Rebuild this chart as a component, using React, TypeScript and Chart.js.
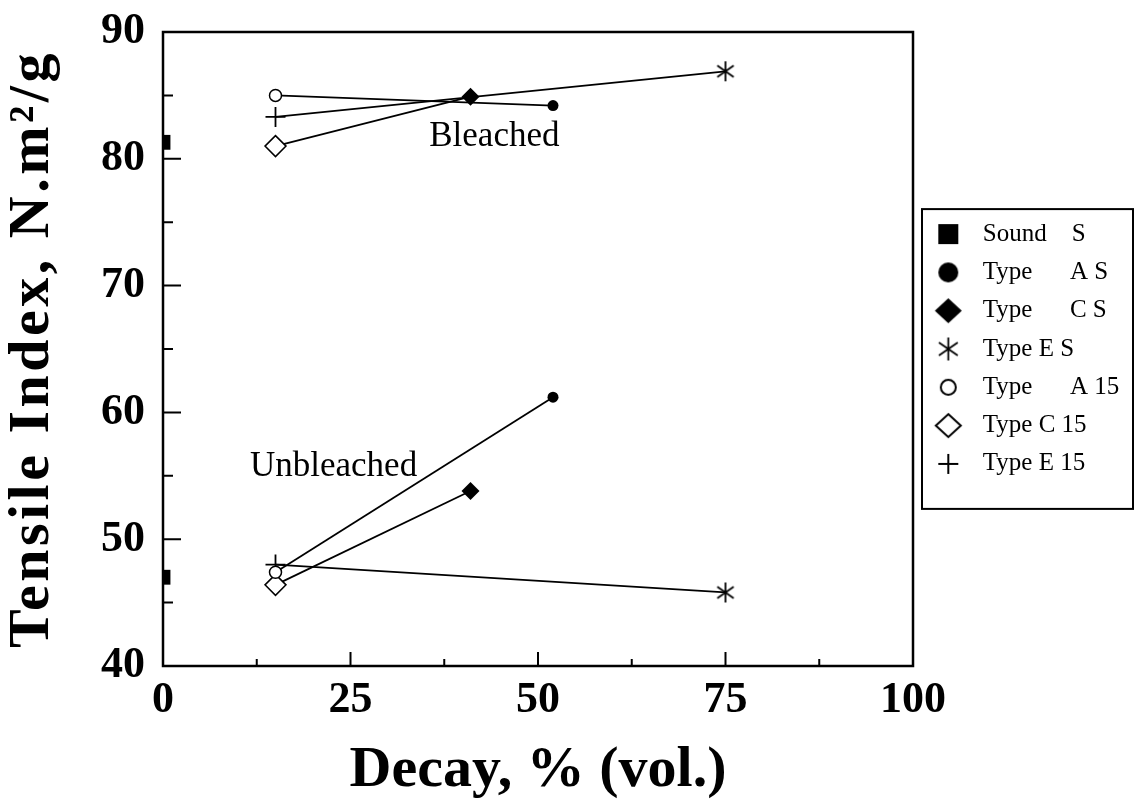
import React, { useEffect, useRef } from 'react';
import { Chart, registerables } from 'chart.js';

Chart.register(...registerables);

const SERIF = '"Liberation Serif", "Times New Roman", serif';

// Legend labels (one per marker series)
const seriesLabels = ['Sound    S', 'Type      A S', 'Type      C S', 'Type E S', 'Type      A 15', 'Type C 15', 'Type E 15'];

// index 0 = bleached, index 1 = unbleached
const soundX = [0, 0];
const soundY = [81.3, 47.0];
const typeASX = [52, 52];
const typeASY = [84.2, 61.2];
const typeCSX = [41, 41];
const typeCSY = [84.9, 53.8];
const typeESX = [75, 75];
const typeESY = [86.9, 45.8];
const typeA15X = [15, 15];
const typeA15Y = [85.0, 47.4];
const typeC15X = [15, 15];
const typeC15Y = [81.0, 46.4];
const typeE15X = [15, 15];
const typeE15Y = [83.3, 48.0];

const xTickLabels = [0, 25, 50, 75, 100];
const yTickLabels = [40, 50, 60, 70, 80, 90];
const xMinorTicks = [12.5, 37.5, 62.5, 87.5];
const yMinorTicks = [45, 55, 65, 75, 85];

const noteTexts = ['Bleached', 'Unbleached'];
const noteX = [35.5, 11.6];
const noteY = [81.0, 55.0];

const LEGEND_WIDTH = 222;

function pts(xs: number[], ys: number[]) {
  return xs.map((x, i) => ({ x, y: ys[i] }));
}

function markerCanvas(kind: string, size: number, lw = 2) {
  const c = document.createElement('canvas');
  const s = Math.ceil(size + lw * 2 + 2);
  c.width = s;
  c.height = s;
  const ctx = c.getContext('2d') as CanvasRenderingContext2D;
  const cx = s / 2;
  const cy = s / 2;
  const r = size / 2;
  ctx.fillStyle = '#000';
  ctx.strokeStyle = '#000';
  ctx.lineWidth = lw;
  ctx.beginPath();
  switch (kind) {
    case 'square':
      ctx.fillRect(cx - r, cy - r, size, size);
      break;
    case 'disc':
      ctx.arc(cx, cy, r, 0, Math.PI * 2);
      ctx.fill();
      break;
    case 'diamond':
      ctx.moveTo(cx, cy - r * 0.92);
      ctx.lineTo(cx + r, cy);
      ctx.lineTo(cx, cy + r * 0.92);
      ctx.lineTo(cx - r, cy);
      ctx.closePath();
      ctx.fill();
      break;
    case 'ring':
      ctx.arc(cx, cy, r - lw / 2, 0, Math.PI * 2);
      ctx.fillStyle = '#fff';
      ctx.fill();
      ctx.stroke();
      break;
    case 'diamondOpen':
      ctx.moveTo(cx, cy - r * 0.92 + lw / 2);
      ctx.lineTo(cx + r - lw / 2, cy);
      ctx.lineTo(cx, cy + r * 0.92 - lw / 2);
      ctx.lineTo(cx - r + lw / 2, cy);
      ctx.closePath();
      ctx.fillStyle = '#fff';
      ctx.fill();
      ctx.stroke();
      break;
    case 'plus':
      ctx.moveTo(cx - r, cy);
      ctx.lineTo(cx + r, cy);
      ctx.moveTo(cx, cy - r);
      ctx.lineTo(cx, cy + r);
      ctx.stroke();
      break;
    case 'asterisk':
      [90, 35, 145].forEach((a) => {
        const t = (a * Math.PI) / 180;
        ctx.moveTo(cx - r * Math.cos(t), cy - r * Math.sin(t));
        ctx.lineTo(cx + r * Math.cos(t), cy + r * Math.sin(t));
      });
      ctx.stroke();
      break;
  }
  return c;
}

export default function App() {
  const ref = useRef<HTMLCanvasElement>(null);

  useEffect(() => {
    document.body.style.margin = '0';
    const canvas = ref.current;
    if (!canvas) return;

    const plotAsterisk = markerCanvas('asterisk', 20, 1.8);
    const legendMarkers = [
      markerCanvas('square', 20),
      markerCanvas('disc', 20),
      markerCanvas('diamond', 27),
      markerCanvas('asterisk', 23, 1.8),
      markerCanvas('ring', 17, 2),
      markerCanvas('diamondOpen', 27, 2),
      markerCanvas('plus', 20, 2),
    ];

    const markerBase = { showLine: false, borderColor: '#000', backgroundColor: '#000' };
    const markerSets: any[] = [
      { ...markerBase, label: seriesLabels[0], data: pts(soundX, soundY), pointStyle: 'rect', pointRadius: 10.5, borderWidth: 0 },
      { ...markerBase, label: seriesLabels[1], data: pts(typeASX, typeASY), pointStyle: 'circle', pointRadius: 5.5, borderWidth: 0 },
      { ...markerBase, label: seriesLabels[2], data: pts(typeCSX, typeCSY), pointStyle: 'rectRot', pointRadius: 9, borderWidth: 0 },
      { ...markerBase, label: seriesLabels[3], data: pts(typeESX, typeESY), pointStyle: plotAsterisk, pointRadius: 10 },
      { ...markerBase, label: seriesLabels[4], data: pts(typeA15X, typeA15Y), pointStyle: 'circle', pointRadius: 6, backgroundColor: '#fff', borderWidth: 1.5 },
      { ...markerBase, label: seriesLabels[5], data: pts(typeC15X, typeC15Y), pointStyle: 'rectRot', pointRadius: 10.5, backgroundColor: '#fff', borderWidth: 1.5 },
      { ...markerBase, label: seriesLabels[6], data: pts(typeE15X, typeE15Y), pointStyle: 'cross', pointRadius: 10, borderWidth: 1.8 },
    ];

    const pairs: [number[], number[], number[], number[]][] = [
      [typeA15X, typeA15Y, typeASX, typeASY],
      [typeC15X, typeC15Y, typeCSX, typeCSY],
      [typeE15X, typeE15Y, typeESX, typeESY],
    ];
    const lineSets: any[] = [];
    [0, 1].forEach((cond) => {
      pairs.forEach(([x1, y1, x2, y2]) => {
        lineSets.push({
          label: '_line',
          data: [
            { x: x1[cond], y: y1[cond] },
            { x: x2[cond], y: y2[cond] },
          ],
          showLine: true,
          borderColor: '#000',
          borderWidth: 1.8,
          pointRadius: 0,
          fill: false,
        });
      });
    });

    const decorPlugin = {
      id: 'decor',
      afterInit(chart: any) {
        const lg = chart.legend;
        if (lg && !lg.__patched) {
          const orig = lg.fit.bind(lg);
          lg.fit = function () {
            orig();
            this.width = LEGEND_WIDTH;
          };
          lg.__patched = true;
        }
      },
      afterLayout(chart: any) {
        const s = chart.scales.y;
        if (s && !s.__patched) {
          const orig = s.drawTitle.bind(s);
          s.drawTitle = function () {
            const c: any = this.ctx;
            const prev = c.letterSpacing;
            c.letterSpacing = '3.5px';
            orig();
            c.letterSpacing = prev || '0px';
          };
          s.__patched = true;
        }
      },
      afterDraw(chart: any) {
        const { ctx, chartArea: a } = chart;
        const xs = chart.scales.x;
        const ys = chart.scales.y;
        ctx.save();
        ctx.strokeStyle = '#000';
        ctx.lineWidth = 2.5;
        ctx.strokeRect(a.left, a.top, a.right - a.left, a.bottom - a.top);
        ctx.lineWidth = 2;
        ctx.beginPath();
        xTickLabels.slice(1, -1).forEach((v) => {
          const p = xs.getPixelForValue(v);
          ctx.moveTo(p, a.bottom);
          ctx.lineTo(p, a.bottom - 14);
        });
        xMinorTicks.forEach((v) => {
          const p = xs.getPixelForValue(v);
          ctx.moveTo(p, a.bottom);
          ctx.lineTo(p, a.bottom - 7);
        });
        yTickLabels.slice(1, -1).forEach((v) => {
          const p = ys.getPixelForValue(v);
          ctx.moveTo(a.left, p);
          ctx.lineTo(a.left + 18, p);
        });
        yMinorTicks.forEach((v) => {
          const p = ys.getPixelForValue(v);
          ctx.moveTo(a.left, p);
          ctx.lineTo(a.left + 10, p);
        });
        ctx.stroke();

        ctx.fillStyle = '#000';
        ctx.font = `35px ${SERIF}`;
        ctx.textAlign = 'left';
        ctx.textBaseline = 'alphabetic';
        noteTexts.forEach((t, i) => {
          ctx.fillText(t, xs.getPixelForValue(noteX[i]), ys.getPixelForValue(noteY[i]));
        });

        const lg = chart.legend;
        const hb = lg && lg.legendHitBoxes;
        if (hb && hb.length) {
          const first = hb[0];
          const last = hb[hb.length - 1];
          const top = first.top - 12.5;
          const bottom = last.top + last.height + 32.5;
          const left = lg.left + 9;
          const right = lg.right - 2;
          ctx.lineWidth = 2;
          ctx.strokeRect(left, top, right - left, bottom - top);
        }
        ctx.restore();
      },
    };

    const chart = new Chart(canvas, {
      type: 'scatter',
      data: { datasets: [...markerSets, ...lineSets] },
      options: {
        animation: false,
        responsive: false,
        maintainAspectRatio: false,
        layout: { padding: { top: 32, left: 0, right: 0, bottom: 0 } },
        scales: {
          x: {
            type: 'linear',
            min: 0,
            max: 100,
            afterBuildTicks: (s: any) => {
              s.ticks = xTickLabels.map((v) => ({ value: v }));
            },
            grid: { display: false, drawTicks: false },
            border: { display: false },
            ticks: {
              color: '#000',
              padding: 8,
              maxRotation: 0,
              autoSkip: false,
              font: { family: SERIF, size: 44, weight: 'bold', lineHeight: 1.2 },
            },
            title: {
              display: true,
              text: 'Decay, % (vol.)',
              color: '#000',
              font: { family: SERIF, size: 58, weight: 'bold', lineHeight: 1.15 },
              padding: { top: 2.5, bottom: 6 },
            },
          },
          y: {
            type: 'linear',
            min: 40,
            max: 90,
            afterBuildTicks: (s: any) => {
              s.ticks = yTickLabels.map((v) => ({ value: v }));
            },
            grid: { display: false, drawTicks: false },
            border: { display: false },
            ticks: {
              color: '#000',
              padding: 18,
              font: { family: SERIF, size: 44, weight: 'bold', lineHeight: 0.6 },
            },
            title: {
              display: true,
              text: 'Tensile Index, N.m²/g',
              color: '#000',
              font: { family: SERIF, size: 58, weight: 'bold', lineHeight: 1.15 },
              padding: { top: 0, bottom: 16.3 },
            },
          },
        },
        plugins: {
          tooltip: { enabled: false },
          legend: {
            position: 'right',
            fullSize: false,
            align: 'center',
            labels: {
              usePointStyle: true,
              pointStyleWidth: 44,
              padding: 13.3,
              color: '#000',
              font: { family: SERIF, size: 25 },
              generateLabels: () =>
                seriesLabels.map((text, i) => ({
                  text,
                  pointStyle: legendMarkers[i],
                  fillStyle: '#000',
                  strokeStyle: '#000',
                  lineWidth: 0,
                  hidden: false,
                  datasetIndex: i,
                  fontColor: '#000',
                })),
            },
          },
        },
      } as any,
      plugins: [decorPlugin],
    });

    return () => chart.destroy();
  }, []);

  return (
    <div style={{ width: 1135, height: 810 }}>
      <canvas ref={ref} width={1135} height={810} style={{ display: 'block' }} />
    </div>
  );
}
